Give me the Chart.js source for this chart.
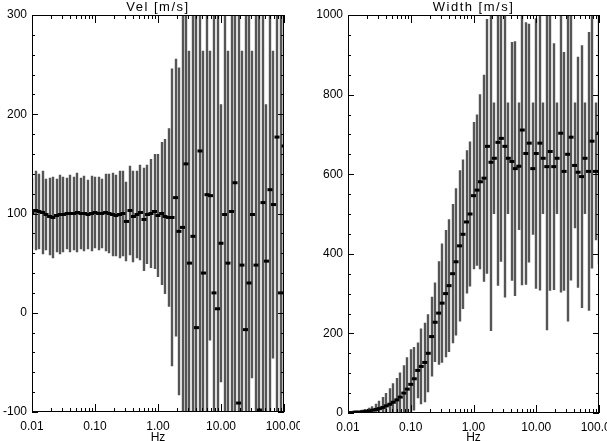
<!DOCTYPE html>
<html>
<head>
<meta charset="utf-8">
<script src="https://cdn.jsdelivr.net/npm/chart.js@4.4.0/dist/chart.umd.min.js"></script>
<style>
    html, body { margin: 0; padding: 0; background: #fff; overflow: hidden; }
    #wrap { position: relative; width: 607px; height: 441px; }
    .panel { position: absolute; top: 0; height: 441px; }
    #left { left: 0; width: 300px; }
    #right { left: 300px; width: 307px; }
</style>
</head>
<body>
<div id="wrap">
    <div class="panel" id="left"><canvas id="velChart"></canvas></div>
    <div class="panel" id="right"><canvas id="widthChart"></canvas></div>
</div>
<script>
// Frequency grid (Hz), shared by both panels
var freq = [
    0.0100, 0.0114, 0.0129, 0.0147, 0.0167, 0.0190, 0.0215, 0.0245, 0.0278, 0.0316, 0.0359, 0.0408, 0.0464, 0.0527, 0.0599, 0.0681, 0.0774, 0.0880,
    0.100, 0.114, 0.129, 0.147, 0.167, 0.190, 0.215, 0.245, 0.278, 0.316, 0.359, 0.408, 0.464, 0.527, 0.599, 0.681, 0.774, 0.880,
    1.00, 1.14, 1.29, 1.47, 1.67, 1.90, 2.15, 2.45, 2.78, 3.16, 3.59, 4.08, 4.64, 5.27, 5.99, 6.81, 7.74, 8.80,
    10.0, 11.4, 12.9, 14.7, 16.7, 19.0, 21.5, 24.5, 27.8, 31.6, 35.9, 40.8, 46.4, 52.7, 59.9, 68.1, 77.4, 88.0,
    100
];

// Vel [m/s] and its error
var vel = [
    100, 103, 102, 101, 99, 97, 96, 98, 99, 99,
    100, 100, 100, 101, 100, 100, 99, 100, 101, 100,
    100, 101, 100, 99, 98, 99, 100, 92, 103, 97,
    99, 101, 94, 99, 100, 102, 98, 100, 97, 96,
    96, 116, 82, 86, 150, 50, 77, -15, 163, 40,
    119, 118, 20, 4, 70, 99, 50, 102, 131, -91,
    48, -17, 30, 99, 48, -98, 111, 52, 124, 109,
    177, 20, 168
];
var velErr = [
    36, 40, 38, 42, 36, 39, 41, 37, 40, 38,
    36, 39, 37, 40, 36, 38, 35, 38, 36, 37,
    35, 39, 40, 42, 41, 44, 43, 40, 45, 46,
    44, 48, 52, 50, 55, 58, 62, 72, 78, 90,
    150, 140, 165, 330, 380, 214, 360, 450, 400, 224,
    420, 146, 460, 380, 140, 410, 214, 360, 300, 420,
    216, 380, 470, 165, 400, 420, 350, 158, 310, 155,
    300, 420, 250
];

// Width [m/s] and its error
var width = [
    1, 1, 2, 2, 3, 4, 5, 7, 9, 11,
    14, 18, 22, 27, 33, 40, 50, 60, 72, 86,
    107, 117, 127, 150, 192, 228, 251, 276, 300, 320,
    350, 380, 420, 449, 480, 500, 546, 560, 581, 590,
    670, 630, 640, 680, 690, 670, 640, 632, 614, 620,
    711, 652, 678, 614, 652, 678, 640, 619, 657, 619,
    640, 703, 607, 650, 693, 622, 605, 594, 640, 607,
    683, 607, 703
];
var widthErr = [
    3, 3, 4, 4, 5, 6, 8, 10, 14, 20,
    26, 32, 40, 48, 55, 62, 70, 80, 88, 80,
    70, 95, 100, 98, 100, 100, 130, 150, 160, 167,
    175, 185, 190, 188, 180, 182, 185, 190, 220, 260,
    320, 424, 140, 360, 310, 380, 140, 300, 320, 160,
    390, 330, 300, 166, 340, 370, 140, 411, 350, 310,
    140, 400, 300, 420, 360, 158, 290, 330, 140, 350,
    320, 173, 330
];

var xTicks = [0.01, 0.1, 1, 10, 100];
var xTickLabels = ['0.01', '0.10', '1.00', '10.00', '100.00'];
var velTicks = [-100, 0, 100, 200, 300];
var widthTicks = [0, 200, 400, 600, 800, 1000];

var FONT = "'Liberation Sans', Arial, Helvetica, sans-serif";

// IDL-looking frame: error bars, boxed axes with inward ticks, title on top
function idlFrame(title, values, errs, minorStep, majorStep) {
    return {
        id: 'idlFrame',
        beforeDatasetsDraw: function (chart) {
            var ctx = chart.ctx, a = chart.chartArea;
            var xs = chart.scales.x, ys = chart.scales.y;
            ctx.save();
            ctx.beginPath();
            ctx.rect(a.left, a.top, a.right - a.left, a.bottom - a.top);
            ctx.clip();
            ctx.strokeStyle = '#555555';
            ctx.lineWidth = 2.4;
            ctx.beginPath();
            for (var i = 0; i < values.length; i++) {
                var px = Math.round(xs.getPixelForValue(freq[i]));
                ctx.moveTo(px, ys.getPixelForValue(values[i] - errs[i]));
                ctx.lineTo(px, ys.getPixelForValue(values[i] + errs[i]));
            }
            ctx.stroke();
            ctx.restore();
        },
        afterDraw: function (chart) {
            var ctx = chart.ctx, a = chart.chartArea;
            var xs = chart.scales.x, ys = chart.scales.y;
            ctx.save();
            ctx.strokeStyle = '#000';
            ctx.lineWidth = 1;
            ctx.strokeRect(Math.round(a.left) + 0.5, Math.round(a.top) + 0.5,
                Math.round(a.right - a.left) - 1, Math.round(a.bottom - a.top) - 1);

            ctx.beginPath();
            // log minor/major ticks on bottom and top
            for (var d = -2; d <= 2; d++) {
                for (var m = 1; m <= 9; m++) {
                    var v = m * Math.pow(10, d);
                    if (v > xs.max * 1.0001) break;
                    var px = Math.round(xs.getPixelForValue(v)) + 0.5;
                    var len = m === 1 ? 8 : 4;
                    ctx.moveTo(px, a.bottom); ctx.lineTo(px, a.bottom - len);
                    ctx.moveTo(px, a.top); ctx.lineTo(px, a.top + len);
                }
            }
            // linear ticks on left and right
            for (var y = ys.min; y <= ys.max; y += minorStep) {
                var py = Math.round(ys.getPixelForValue(y)) + 0.5;
                var l = (y % majorStep === 0) ? 6 : 3;
                ctx.moveTo(a.left, py); ctx.lineTo(a.left + l, py);
                ctx.moveTo(a.right, py); ctx.lineTo(a.right - l, py);
            }
            ctx.stroke();

            ctx.fillStyle = '#000';
            ctx.font = '13px ' + FONT;
            if ('letterSpacing' in ctx) ctx.letterSpacing = '1.5px';
            ctx.textAlign = 'center';
            ctx.textBaseline = 'alphabetic';
            ctx.fillText(title, (a.left + a.right) / 2, 11);
            ctx.restore();
        }
    };
}

function makeChart(el, values, errs, yTicks, title, minorStep, yWidth, xHeight, padRight) {
    var pts = freq.map(function (f, i) { return { x: f, y: values[i] }; });
    return new Chart(el, {
        type: 'scatter',
        data: {
            datasets: [{
                data: pts,
                showLine: false,
                borderColor: '#000',
                backgroundColor: '#000',
                pointStyle: 'line',
                pointRadius: 2.5,
                pointBorderWidth: 3,
                clip: 0
            }]
        },
        options: {
            responsive: true,
            maintainAspectRatio: false,
            animation: false,
            events: [],
            layout: { padding: { top: 15, right: padRight, left: 0, bottom: 0 } },
            plugins: { legend: { display: false }, tooltip: { enabled: false } },
            scales: {
                x: {
                    type: 'logarithmic',
                    min: 0.01,
                    max: 100,
                    afterBuildTicks: function (s) {
                        s.ticks = xTicks.map(function (v) { return { value: v }; });
                    },
                    afterFit: function (s) {
                        s.height = xHeight;
                        s.paddingLeft = 0;
                        s.paddingRight = 0;
                    },
                    grid: { display: false, drawTicks: false },
                    border: { display: false },
                    ticks: {
                        autoSkip: false,
                        maxRotation: 0,
                        minRotation: 0,
                        padding: 7,
                        color: '#000',
                        font: { family: FONT, size: 12 },
                        callback: function (v, i) { return xTickLabels[i]; }
                    },
                    title: {
                        display: true,
                        text: 'Hz',
                        color: '#000',
                        font: { family: FONT, size: 12, lineHeight: 0.6 },
                        padding: 0
                    }
                },
                y: {
                    type: 'linear',
                    min: yTicks[0],
                    max: yTicks[yTicks.length - 1],
                    afterBuildTicks: function (s) {
                        s.ticks = yTicks.map(function (v) { return { value: v }; });
                    },
                    afterFit: function (s) {
                        s.width = yWidth;
                        s.paddingTop = 0;
                        s.paddingBottom = 0;
                    },
                    grid: { display: false, drawTicks: false },
                    border: { display: false },
                    ticks: {
                        padding: 5,
                        color: '#000',
                        font: { family: FONT, size: 12 },
                        callback: function (v) { return String(v); }
                    }
                }
            }
        },
        plugins: [idlFrame(title, values, errs, minorStep, yTicks[1] - yTicks[0])]
    });
}

makeChart(document.getElementById('velChart'), vel, velErr, velTicks, 'Vel [m/s]', 20, 32, 29, 16);
makeChart(document.getElementById('widthChart'), width, widthErr, widthTicks, 'Width [m/s]', 50, 48, 28, 8);
</script>
</body>
</html>
